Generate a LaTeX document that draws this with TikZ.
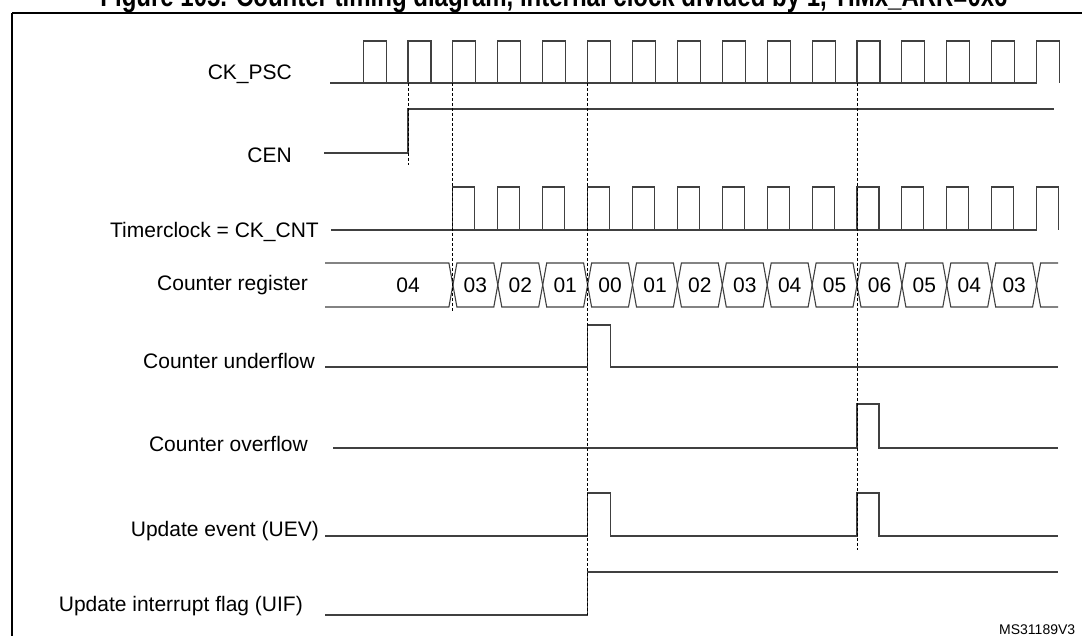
\documentclass[tikz,border=0pt]{standalone}
\usepackage{fontspec}
\setmainfont{Liberation Sans}
\usetikzlibrary{positioning}

\tikzset{
  wave/.style={draw=black!75, line width=1.1pt},
  sync/.style={draw=black, line width=0.9pt, dash pattern=on 3pt off 2pt},
  siglabel/.style={anchor=east, inner sep=0pt, font=\fontsize{21}{24}\selectfont},
  cellval/.style={inner sep=0pt, font=\fontsize{21}{24}\selectfont}
}
% rising edge k of the clock
\newcommand{\edgeat}[1]{(408+44.9*(#1))}

\begin{document}
\begin{tikzpicture}[x=1pt, y=-1pt]
  \useasboundingbox (0,0) rectangle (1082,636);
  % frame and title
  \draw[line width=1.6pt] (12,13) -- (12,640) (12,13) -- (1090,13);
  \node[anchor=base, inner sep=0pt, xscale=0.8, font=\fontsize{30}{32}\bfseries\selectfont] (title) at (554,7)
    {Figure 105. Counter timing diagram, internal clock divided by 1, TIMx\_ARR=0x6};
  \node[anchor=base west, inner sep=0pt, font=\fontsize{14}{16}\selectfont] (ref) at (999,634) {MS31189V3};

  % signal names
  \node[siglabel] (lpsc) at (292,74)  {CK\_PSC};
  \node[siglabel] (lcen) at (292,155) {CEN};
  \node[siglabel] (lcnt) at (319,232) {Timerclock = CK\_CNT};
  \node[siglabel] (lreg) at (308,285) {Counter register};
  \node[siglabel] (lunf) at (315,361) {Counter underflow};
  \node[siglabel] (lovf) at (308,444) {Counter overflow};
  \node[siglabel] (luev) at (319,531) {Update event (UEV)};
  \node[siglabel] (luif) at (303,606) {Update interrupt flag (UIF)};

  % CK_PSC
  \draw[wave] (330,83) -- ({\edgeat{14}},83);
  \foreach \k in {-1,...,14}
    \draw[wave] ({\edgeat{\k}},83) -- ({\edgeat{\k}},41) -- ({\edgeat{\k}+23},41) -- ({\edgeat{\k}+23},83);

  % CEN
  \draw[wave] (324,153) -- ({\edgeat{0}},153) -- ({\edgeat{0}},109) -- (1054,109);

  % CK_CNT
  \draw[wave] (331,230) -- ({\edgeat{14}},230);
  \foreach \k in {1,...,14}
    \draw[wave] ({\edgeat{\k}},230) -- ({\edgeat{\k}},187) -- ({\edgeat{\k}+22},187) -- ({\edgeat{\k}+22},230);

  % counter register
  \draw[wave] (325,263) -- ({\edgeat{1}-4},263) -- ({\edgeat{1}},285) -- ({\edgeat{1}-4},307) -- (325,307);
  \node[cellval] (v0) at (408,285) {04};
  \foreach \v [count=\k] in {03,02,01,00,01,02,03,04,05,06,05,04,03} {
    \draw[wave] ({\edgeat{\k}},285) -- ({\edgeat{\k}+4},263) -- ({\edgeat{\k+1}-4},263) -- ({\edgeat{\k+1}},285)
      -- ({\edgeat{\k+1}-4},307) -- ({\edgeat{\k}+4},307) -- cycle;
    \node[cellval] (v\k) at ({\edgeat{\k}+22.5},285) {\v};
  }
  \draw[wave] (1058,263) -- ({\edgeat{14}+4},263) -- ({\edgeat{14}},285) -- ({\edgeat{14}+4},307) -- (1058,307);

  % underflow, overflow, UEV, UIF
  \draw[wave] (325,367) -- ({\edgeat{4}},367) |- ({\edgeat{4}+23},325) |- (1058,367);
  \draw[wave] (333,448) -- ({\edgeat{10}},448) |- ({\edgeat{10}+22},404) |- (1058,448);
  \draw[wave] (325,536) -- ({\edgeat{4}},536) |- ({\edgeat{4}+23},493) |- ({\edgeat{10}},536)
    |- ({\edgeat{10}+22},493) |- (1058,536);
  \draw[wave] (325,615) -- ({\edgeat{4}},615) |- (1058,572);

  % sync lines
  \draw[sync] ({\edgeat{0}},83) -- ({\edgeat{0}},165);
  \draw[sync] ({\edgeat{1}},83) -- ({\edgeat{1}},311);
  \draw[sync] ({\edgeat{4}},83) -- ({\edgeat{4}},615);
  \draw[sync] ({\edgeat{10}},83) -- ({\edgeat{10}},550);
\end{tikzpicture}
\end{document}
